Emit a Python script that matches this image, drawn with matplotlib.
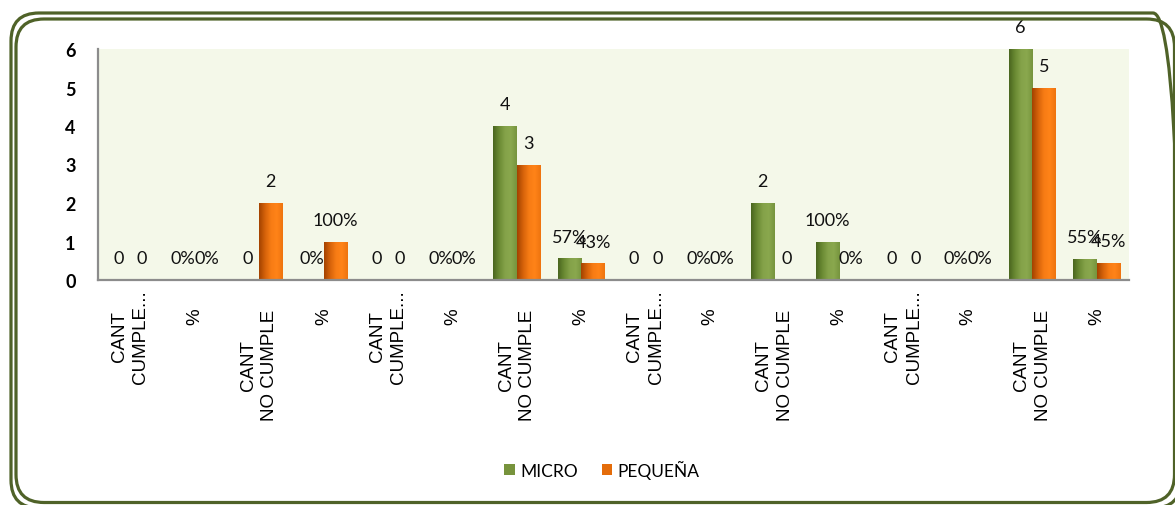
import numpy as np
import matplotlib
matplotlib.use("Agg")
import matplotlib.pyplot as plt
from matplotlib.patches import FancyBboxPatch, Patch
from matplotlib.colors import LinearSegmentedColormap

categories = ["CANT\nCUMPLE...", "%", "CANT\nNO CUMPLE", "%"] * 4
micro = [0, 0, 0, 0, 0, 0, 4, 0.57, 0, 0, 2, 1.00, 0, 0, 6, 0.55]
pequena = [0, 0, 2, 1.00, 0, 0, 3, 0.43, 0, 0, 0, 0, 0, 0, 5, 0.45]
series_names = ["MICRO", "PEQUEÑA"]
yticks = [0, 1, 2, 3, 4, 5, 6]

green = "#77933C"
orange = "#E46C0A"
green_cmap = LinearSegmentedColormap.from_list(
    "green_shade", ["#4A661F", "#6A8A33", "#84A249", "#8AA84E", "#76943E"])
orange_cmap = LinearSegmentedColormap.from_list(
    "orange_shade", ["#A34300", "#D5620A", "#F77C14", "#FF8318", "#EE740F"])

fig = plt.figure(figsize=(11.75, 5.06), dpi=100)
ax = fig.add_axes([98 / 1175, 1 - 281 / 506, 1031 / 1175, 231 / 506])
ax.set_facecolor("#F4F8E9")

x = np.arange(len(categories))
w = 0.365
bars_m = ax.bar(x - w / 2, micro, w, color=green, zorder=2)
bars_p = ax.bar(x + w / 2, pequena, w, color=orange, zorder=2)

# cylinder-like shading across each bar
grad = np.linspace(0, 1, 64).reshape(1, -1)
for bars, cmap in ((bars_m, green_cmap), (bars_p, orange_cmap)):
    for b in bars:
        h = b.get_height()
        if h <= 0:
            continue
        im = ax.imshow(grad, cmap=cmap, aspect="auto", interpolation="bilinear",
                       extent=(b.get_x(), b.get_x() + b.get_width(), 0, h), zorder=2.5)
        im.set_clip_path(b)

# value labels
for bars, vals in ((bars_m, micro), (bars_p, pequena)):
    for i, (b, v) in enumerate(zip(bars, vals)):
        txt = f"{v:.0%}" if i % 2 == 1 else f"{v:g}"
        ax.annotate(txt, (b.get_x() + b.get_width() / 2, v), xytext=(0, 15.5),
                    textcoords="offset points", ha="center", va="center",
                    fontsize=13, family=["Lato", "DejaVu Sans"], color="#111111",
                    zorder=4)

ax.set_xlim(-0.5, len(categories) - 0.5)
ax.set_ylim(0, 6)
ax.set_yticks(yticks)
ax.set_yticklabels([str(t) for t in yticks], family=["Lato", "DejaVu Sans"],
                   fontweight="bold", fontsize=13)
ax.set_xticks(x)
ax.set_xticklabels(categories, rotation=90, fontsize=13.5, linespacing=1.35,
                   family=["Liberation Sans", "DejaVu Sans"], multialignment="center")
ax.tick_params(axis="both", length=0)
ax.tick_params(axis="y", pad=16)
for t, lab in zip(ax.xaxis.get_major_ticks(), categories):
    if lab == "%":
        t.set_pad(20)
    elif "NO" in lab:
        t.set_pad(21)
    else:
        t.set_pad(6.5)

for s in ("top", "right"):
    ax.spines[s].set_visible(False)
for s in ("left", "bottom"):
    ax.spines[s].set_color("#8C8C8C")
    ax.spines[s].set_linewidth(1.6)

handles = [Patch(facecolor=green), Patch(facecolor=orange)]
fig.legend(handles, series_names, loc="center", bbox_to_anchor=(602 / 1175, 1 - 470 / 506),
           ncol=2, frameon=False, handlelength=0.6, handleheight=0.6, handletextpad=0.3,
           columnspacing=1.4, prop={"family": ["Lato", "DejaVu Sans"], "size": 12.5})

# double rounded frame around the chart
H = 506
for (l, t, r, b) in ((11, 14, 1181, 509), (16, 20, 1174.5, 503.5)):
    box = FancyBboxPatch((l / 100, (H - b) / 100), (r - l) / 100, (b - t) / 100,
                         boxstyle="round,pad=0,rounding_size=0.28",
                         transform=fig.dpi_scale_trans, fill=False,
                         edgecolor="#4F6228", linewidth=2.3, zorder=10)
    fig.add_artist(box)

fig.savefig("out.png", dpi=100)
